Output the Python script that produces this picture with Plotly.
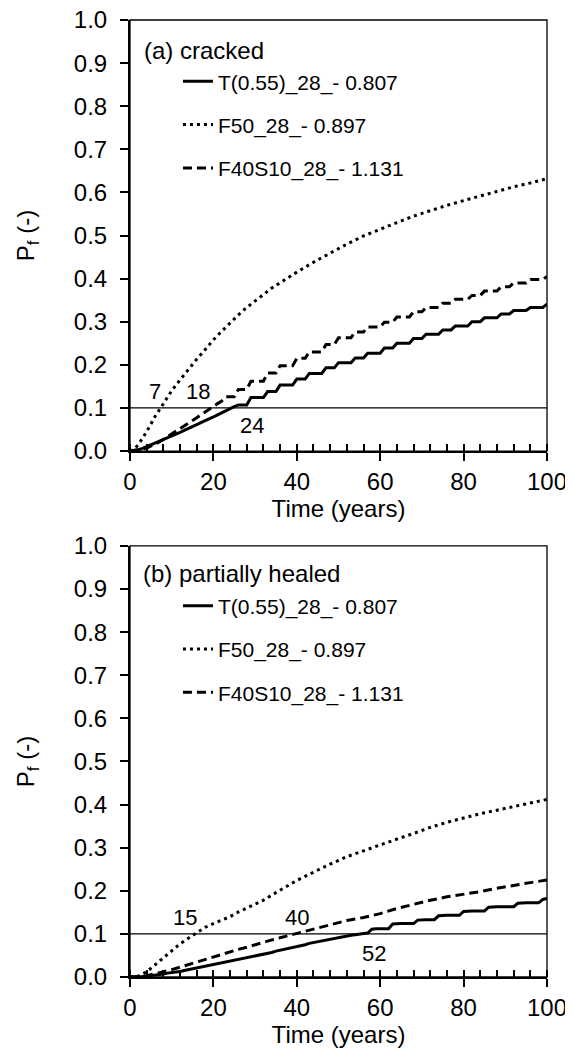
import plotly.graph_objects as go

# ---------------- data ----------------
years = [0, 1, 2, 3, 4, 5, 6, 7, 8, 9, 10, 11, 12, 13, 14, 15, 16, 17, 18, 19, 20,
         21, 22, 23, 24, 25, 26, 27, 28, 29, 30, 31, 32, 33, 34, 35, 36, 37, 38, 39, 40,
         41, 42, 43, 44, 45, 46, 47, 48, 49, 50, 51, 52, 53, 54, 55, 56, 57, 58, 59, 60,
         61, 62, 63, 64, 65, 66, 67, 68, 69, 70, 71, 72, 73, 74, 75, 76, 77, 78, 79, 80,
         81, 82, 83, 84, 85, 86, 87, 88, 89, 90, 91, 92, 93, 94, 95, 96, 97, 98, 99, 100]

# (a) cracked
a_T055 = [0.000, 0.001, 0.003, 0.006, 0.010, 0.014, 0.018, 0.022, 0.026, 0.030,
          0.034, 0.039, 0.043, 0.048, 0.052, 0.057, 0.061, 0.066, 0.070, 0.075,
          0.079, 0.084, 0.089, 0.094, 0.099, 0.103, 0.107, 0.107, 0.107, 0.124,
          0.124, 0.124, 0.124, 0.138, 0.138, 0.138, 0.153, 0.153, 0.153, 0.153,
          0.167, 0.167, 0.167, 0.180, 0.180, 0.180, 0.180, 0.193, 0.193, 0.193,
          0.205, 0.205, 0.205, 0.205, 0.216, 0.216, 0.216, 0.227, 0.227, 0.227,
          0.227, 0.239, 0.239, 0.239, 0.250, 0.250, 0.250, 0.250, 0.261, 0.261,
          0.261, 0.271, 0.271, 0.271, 0.271, 0.281, 0.281, 0.281, 0.290, 0.290,
          0.290, 0.290, 0.300, 0.300, 0.300, 0.309, 0.309, 0.309, 0.309, 0.318,
          0.318, 0.318, 0.326, 0.326, 0.326, 0.326, 0.333, 0.333, 0.333, 0.333,
          0.341]

a_F40S10 = [0.000, 0.001, 0.002, 0.004, 0.007, 0.011, 0.016, 0.021, 0.027, 0.033,
            0.039, 0.045, 0.051, 0.057, 0.063, 0.070, 0.077, 0.084, 0.091, 0.098,
            0.104, 0.110, 0.116, 0.126, 0.126, 0.126, 0.143, 0.143, 0.143, 0.162,
            0.162, 0.162, 0.162, 0.181, 0.181, 0.181, 0.198, 0.198, 0.198, 0.198,
            0.215, 0.215, 0.215, 0.230, 0.230, 0.230, 0.230, 0.247, 0.247, 0.247,
            0.263, 0.263, 0.263, 0.263, 0.276, 0.276, 0.276, 0.288, 0.288, 0.288,
            0.288, 0.299, 0.299, 0.299, 0.311, 0.311, 0.311, 0.311, 0.323, 0.323,
            0.323, 0.333, 0.333, 0.333, 0.333, 0.343, 0.343, 0.343, 0.352, 0.352,
            0.352, 0.352, 0.361, 0.361, 0.361, 0.371, 0.371, 0.371, 0.371, 0.381,
            0.381, 0.381, 0.390, 0.390, 0.390, 0.390, 0.398, 0.398, 0.398, 0.398,
            0.405]

years_sparse = [0, 1, 2, 4, 6, 8, 10, 12, 14, 16, 18, 20, 22, 24, 26, 28, 30, 32, 34,
                36, 38, 40, 44, 48, 52, 56, 60, 64, 68, 72, 76, 80, 84, 88, 92, 96, 100]
a_F50 = [0.000, 0.004, 0.015, 0.045, 0.080, 0.110, 0.140, 0.165, 0.190, 0.213,
         0.235, 0.258, 0.278, 0.298, 0.316, 0.333, 0.349, 0.363, 0.378, 0.391,
         0.403, 0.415, 0.438, 0.460, 0.480, 0.499, 0.515, 0.530, 0.545, 0.558,
         0.570, 0.581, 0.592, 0.603, 0.613, 0.622, 0.632]

# (b) partially healed
b_T055 = [0.000, 0.000, 0.001, 0.001, 0.002, 0.003, 0.005, 0.006, 0.007, 0.009,
          0.010, 0.012, 0.013, 0.015, 0.017, 0.018, 0.020, 0.022, 0.024, 0.026,
          0.028, 0.030, 0.032, 0.034, 0.036, 0.038, 0.040, 0.042, 0.044, 0.046,
          0.048, 0.051, 0.053, 0.055, 0.057, 0.060, 0.062, 0.064, 0.066, 0.069,
          0.071, 0.073, 0.075, 0.078, 0.080, 0.082, 0.084, 0.086, 0.088, 0.090,
          0.092, 0.093, 0.095, 0.097, 0.098, 0.100, 0.101, 0.102, 0.111, 0.112,
          0.112, 0.112, 0.112, 0.123, 0.124, 0.124, 0.124, 0.124, 0.124, 0.132,
          0.133, 0.133, 0.133, 0.133, 0.142, 0.143, 0.143, 0.143, 0.143, 0.143,
          0.152, 0.153, 0.153, 0.153, 0.153, 0.153, 0.162, 0.163, 0.163, 0.163,
          0.163, 0.163, 0.163, 0.171, 0.172, 0.172, 0.172, 0.172, 0.172, 0.180,
          0.182]

b_F50 = [0.000, 0.001, 0.002, 0.012, 0.028, 0.045, 0.062, 0.077, 0.090, 0.103,
         0.115, 0.124, 0.132, 0.140, 0.151, 0.160, 0.168, 0.178, 0.190, 0.201,
         0.212, 0.224, 0.243, 0.262, 0.279, 0.293, 0.306, 0.320, 0.333, 0.347,
         0.359, 0.369, 0.379, 0.387, 0.395, 0.403, 0.412]

b_F40S10 = [0.000, 0.000, 0.001, 0.003, 0.007, 0.012, 0.017, 0.023, 0.029, 0.035,
            0.040, 0.046, 0.052, 0.058, 0.064, 0.069, 0.075, 0.080, 0.086, 0.091,
            0.096, 0.100, 0.110, 0.120, 0.131, 0.138, 0.147, 0.159, 0.169, 0.178,
            0.186, 0.192, 0.198, 0.206, 0.213, 0.219, 0.225]

series_names = ["T(0.55)_28_- 0.807", "F50_28_- 0.897", "F40S10_28_- 1.131"]
threshold = 0.1
threshold_x = [0, 100]

# crossing-time labels: (text, x, y)
labels_a = [("7", 6.0, 0.138), ("18", 16.4, 0.138), ("24", 29.2, 0.060)]
labels_b = [("15", 13.2, 0.138), ("40", 40.0, 0.138), ("52", 58.4, 0.054)]

# ---------------- figure ----------------
FONT = "Liberation Sans, Arial, sans-serif"
BLACK = "black"
styles = [dict(dash="solid", width=3),
          dict(dash="3px,4px", width=3),
          dict(dash="9px,5px", width=3)]

fig = go.Figure()

panels = [
    ("x", "y", "legend", "a", [(years, a_T055), (years_sparse, a_F50), (years, a_F40S10)]),
    ("x2", "y2", "legend2", "b", [(years, b_T055), (years_sparse, b_F50), (years_sparse, b_F40S10)]),
]
for xa, ya, leg, tag, data in panels:
    fig.add_trace(go.Scatter(x=threshold_x, y=[threshold, threshold], mode="lines",
                             line=dict(color=BLACK, width=1.3), showlegend=False,
                             xaxis=xa, yaxis=ya, hoverinfo="skip"))
    for i, ((xs, ys), name) in enumerate(zip(data, series_names)):
        fig.add_trace(go.Scatter(x=xs, y=ys, mode="lines", name=name,
                                 line=dict(color=BLACK, **styles[i]),
                                 xaxis=xa, yaxis=ya, legend=leg,
                                 legendgroup=f"{tag}{i}"))

TICK = 24
axis_common = dict(showgrid=False, zeroline=False, showline=True, linecolor=BLACK,
                   linewidth=2, ticks="outside", ticklen=8, tickwidth=2, tickcolor=BLACK,
                   ticklabeloverflow="allow",
                   tickfont=dict(family=FONT, size=TICK, color=BLACK))
xcommon = dict(axis_common, range=[0, 100], dtick=20, tick0=0,
               minor=dict(ticks="inside", dtick=4, tick0=0, ticklen=7, tickwidth=1.5,
                          tickcolor=BLACK),
               title=dict(text="Time (years)", font=dict(family=FONT, size=TICK, color=BLACK),
                          standoff=0))
ycommon = dict(axis_common, range=[0, 1], dtick=0.1, tick0=0, tickformat=".1f",
               ticklabelstandoff=8,
               title=dict(text="P<sub>f</sub> (-)", font=dict(family=FONT, size=TICK, color=BLACK),
                          standoff=32))
over_common = dict(showgrid=False, zeroline=False, showline=False, showticklabels=False,
                   ticks="inside", ticklen=8, tickwidth=2, tickcolor=BLACK)

top_dom = [0.5496, 1.0]
bot_dom = [0.0, 0.4504]

# page body has an 8px margin: the figure is sized/offset to compensate
fig.update_layout(
    width=565, height=1040,
    margin=dict(l=122, r=26, t=12, b=71, autoexpand=False),
    paper_bgcolor="white", plot_bgcolor="white",
    font=dict(family=FONT, color=BLACK),
    xaxis=dict(xcommon, anchor="y", domain=[0, 1]),
    yaxis=dict(ycommon, anchor="x", domain=top_dom),
    xaxis2=dict(xcommon, anchor="y2", domain=[0, 1]),
    yaxis2=dict(ycommon, anchor="x2", domain=bot_dom),
    xaxis3=dict(over_common, overlaying="x", anchor="y", range=[0, 100], dtick=20, tick0=0),
    yaxis3=dict(over_common, overlaying="y", anchor="x", range=[0, 1], dtick=0.1, tick0=0),
    xaxis4=dict(over_common, overlaying="x2", anchor="y2", range=[0, 100], dtick=20, tick0=0),
    yaxis4=dict(over_common, overlaying="y2", anchor="x2", range=[0, 1], dtick=0.1, tick0=0),
    legend=dict(x=0.115, y=0.957, xanchor="left", yanchor="top",
                font=dict(family=FONT, size=21, color=BLACK),
                bgcolor="rgba(0,0,0,0)", traceorder="grouped", tracegroupgap=13),
    legend2=dict(x=0.115, y=0.409, xanchor="left", yanchor="top",
                 font=dict(family=FONT, size=21, color=BLACK),
                 bgcolor="rgba(0,0,0,0)", traceorder="grouped", tracegroupgap=13),
    showlegend=True,
)

# frame (top / right borders)
for xr, yr in [("x domain", "y domain"), ("x2 domain", "y2 domain")]:
    fig.add_shape(type="rect", xref=xr, yref=yr, x0=0, x1=1, y0=0, y1=1,
                  line=dict(color=BLACK, width=1.3), fillcolor="rgba(0,0,0,0)", layer="above")

# panel captions
fig.add_annotation(text="(a) cracked", xref="x domain", yref="y domain", x=0.028, y=0.930,
                   xanchor="left", yanchor="middle", showarrow=False,
                   font=dict(family=FONT, size=24, color=BLACK))
fig.add_annotation(text="(b) partially healed", xref="x2 domain", yref="y2 domain", x=0.026,
                   y=0.937, xanchor="left", yanchor="middle", showarrow=False,
                   font=dict(family=FONT, size=24, color=BLACK))

for (xa, ya), labs in [(("x", "y"), labels_a), (("x2", "y2"), labels_b)]:
    for txt, lx, ly in labs:
        fig.add_annotation(text=txt, x=lx, y=ly, xref=xa, yref=ya, showarrow=False,
                           xanchor="center", yanchor="middle",
                           font=dict(family=FONT, size=22, color=BLACK))

fig.write_html("out.html")
